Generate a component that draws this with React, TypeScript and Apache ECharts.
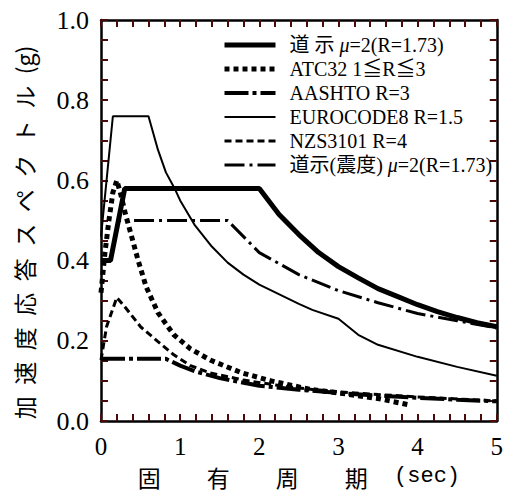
import React, { useEffect, useRef } from "react";
import * as echarts from "echarts";

// ---- data ----
const SERIES_NAMES = [
  "道 示 μ=2(R=1.73)",
  "ATC32 1≦R≦3",
  "AASHTO R=3",
  "EUROCODE8 R=1.5",
  "NZS3101 R=4",
  "道示(震度) μ=2(R=1.73)",
];

const DOSHI_T = [0, 0.12, 0.3, 2.0, 2.25, 2.5, 2.75, 3.0, 3.25, 3.5, 3.75, 4.0, 4.25, 4.5, 4.75, 5.0];
const DOSHI_V = [0.4, 0.4, 0.58, 0.58, 0.515, 0.465, 0.42, 0.385, 0.357, 0.33, 0.31, 0.29, 0.273, 0.258, 0.245, 0.235];

const ATC_T = [0, 0.05, 0.1, 0.15, 0.2, 0.25, 0.31, 0.38, 0.47, 0.57, 0.72, 0.92, 1.13, 1.38, 1.78, 2.15, 2.64, 3.0, 3.5, 3.9];
const ATC_V = [0.32, 0.42, 0.5, 0.57, 0.6, 0.565, 0.515, 0.465, 0.4, 0.335, 0.27, 0.215, 0.18, 0.152, 0.12, 0.1, 0.079, 0.07, 0.056, 0.04];

const AASHTO_T = [0, 0.82, 1.0, 1.2, 1.5, 2.0, 2.5, 3.0, 3.5, 4.0, 4.5, 5.0];
const AASHTO_V = [0.155, 0.155, 0.138, 0.123, 0.107, 0.088, 0.078, 0.07, 0.063, 0.058, 0.053, 0.049];

const EC8_T = [0, 0.15, 0.6, 0.72, 0.82, 0.93, 1.0, 1.18, 1.4, 1.6, 1.8, 2.0, 2.5, 2.67, 3.0, 3.25, 3.5, 4.0, 4.5, 5.0];
const EC8_V = [0.46, 0.76, 0.76, 0.676, 0.62, 0.58, 0.55, 0.49, 0.435, 0.395, 0.365, 0.34, 0.292, 0.277, 0.255, 0.215, 0.19, 0.16, 0.135, 0.113];

const NZS_T = [0, 0.07, 0.2, 0.3, 0.5, 0.72, 0.92, 1.13, 1.38, 1.8, 2.2, 2.6, 3.0, 3.5, 4.0, 4.5, 5.0];
const NZS_V = [0.152, 0.235, 0.308, 0.285, 0.235, 0.198, 0.165, 0.138, 0.12, 0.102, 0.09, 0.08, 0.073, 0.066, 0.06, 0.055, 0.05];

const SHINDO_T = [0, 0.12, 0.22, 1.6, 2.0, 2.5, 3.0, 3.5, 4.0, 4.5, 5.0];
const SHINDO_V = [0.4, 0.4, 0.5, 0.5, 0.42, 0.365, 0.325, 0.295, 0.268, 0.25, 0.232];

const X_MIN = 0;
const X_MAX = 5;
const X_SPLITS = 5;
const Y_MIN = 0;
const Y_MAX = 1.0;
const Y_SPLITS = 5;

const X_NAME_MAIN = "固　　有　　周　　期";
const X_NAME_UNIT = "  (sec)";
const Y_NAME = "加\u2002速\u2002度\u2002応\u2002答\u2002ス\u2002ペ\u2002ク\u2002ト\u2002ル\u2002(g)";

const SERIF = "'Liberation Serif', 'Times New Roman', 'Noto Sans CJK JP', serif";
const CJK = "'Noto Sans CJK JP', sans-serif";
const TICK_COLOR = "#4a0a0a";

const pairs = (t: number[], v: number[]) => t.map((x, i) => [x, v[i]]);

export default function App() {
  const ref = useRef<HTMLDivElement>(null);

  useEffect(() => {
    document.body.style.margin = "0";
    const chart = echarts.init(ref.current!, null, { renderer: "svg" });

    const styles = [
      { width: 5, type: "solid" as any },
      { width: 5, type: [5, 4] as any },
      { width: 4, type: [24, 4, 4, 4] as any },
      { width: 2, type: "solid" as any },
      { width: 3, type: [7, 4] as any },
      { width: 3, type: [20, 5, 3, 5] as any },
    ];
    const datas = [
      pairs(DOSHI_T, DOSHI_V),
      pairs(ATC_T, ATC_V),
      pairs(AASHTO_T, AASHTO_V),
      pairs(EC8_T, EC8_V),
      pairs(NZS_T, NZS_V),
      pairs(SHINDO_T, SHINDO_V),
    ];

    const axisLine = () => ({ show: true, onZero: false, lineStyle: { color: "#000", width: 2.5 } });
    const tick = () => ({ show: true, inside: true, length: 7, lineStyle: { color: TICK_COLOR, width: 2 } });
    const minor = (n: number) => ({ show: true, splitNumber: n, length: 7, lineStyle: { color: TICK_COLOR, width: 2 } });

    chart.setOption({
      animation: false,
      backgroundColor: "#fff",
      grid: { left: 101, right: 7.5, top: 20, bottom: 76, containLabel: false },
      legend: {
        orient: "vertical",
        left: 222,
        top: 35,
        padding: 0,
        itemWidth: 51,
        itemHeight: 14,
        itemGap: 4,
        data: SERIES_NAMES,
        formatter: (name: string) => name.replace("μ", "{i|μ}"),
        lineStyle: { width: "inherit" },
        itemStyle: { opacity: 0, borderWidth: 0 },
        textStyle: {
          color: "#000",
          fontSize: 20,
          lineHeight: 20,
          fontFamily: SERIF,
          padding: [0, 0, 0, 9],
          rich: {
            i: { fontStyle: "italic", fontSize: 20, fontFamily: SERIF, color: "#000" },
          },
        },
      },
      xAxis: [
        {
          type: "value",
          min: X_MIN,
          max: X_MAX,
          splitNumber: X_SPLITS,
          position: "bottom",
          axisLine: axisLine(),
          axisTick: tick(),
          minorTick: minor(5),
          splitLine: { show: false },
          axisLabel: {
            color: "#000",
            fontSize: 25,
            fontFamily: SERIF,
            margin: 13,
            formatter: (v: number) => String(v),
          },
          name: `{a|${X_NAME_MAIN}}{b|${X_NAME_UNIT}}`,
          nameLocation: "middle",
          nameGap: 44,
          nameTextStyle: {
            rich: {
              a: { fontSize: 23, fontFamily: CJK, color: "#000" },
              b: { fontSize: 22, fontFamily: "'Liberation Mono', 'DejaVu Sans Mono', monospace", color: "#000" },
            },
          },
        },
        {
          type: "value",
          min: X_MIN,
          max: X_MAX,
          splitNumber: X_SPLITS,
          position: "top",
          axisLine: axisLine(),
          axisTick: tick(),
          minorTick: minor(5),
          splitLine: { show: false },
          axisLabel: { show: false },
        },
      ],
      yAxis: [
        {
          type: "value",
          min: Y_MIN,
          max: Y_MAX,
          splitNumber: Y_SPLITS,
          position: "left",
          axisLine: axisLine(),
          axisTick: tick(),
          minorTick: minor(4),
          splitLine: { show: false },
          axisLabel: {
            color: "#000",
            fontSize: 26,
            fontFamily: SERIF,
            margin: 12,
            formatter: (v: number) => v.toFixed(1),
          },
          name: Y_NAME,
          nameLocation: "middle",
          nameGap: 66,
          nameTextStyle: { fontSize: 23, fontFamily: CJK, color: "#000", padding: [0, 24, 0, 0] },
        },
        {
          type: "value",
          min: Y_MIN,
          max: Y_MAX,
          splitNumber: Y_SPLITS,
          position: "right",
          axisLine: axisLine(),
          axisTick: tick(),
          minorTick: minor(4),
          splitLine: { show: false },
          axisLabel: { show: false },
        },
      ],
      series: SERIES_NAMES.map((name, i) => ({
        name,
        type: "line",
        xAxisIndex: 0,
        yAxisIndex: 0,
        symbol: "none",
        smooth: false,
        data: datas[i],
        lineStyle: { color: "#000", width: styles[i].width, type: styles[i].type },
        itemStyle: { color: "#000" },
      })),
    });

    return () => chart.dispose();
  }, []);

  return <div ref={ref} style={{ width: 506, height: 497 }} />;
}
